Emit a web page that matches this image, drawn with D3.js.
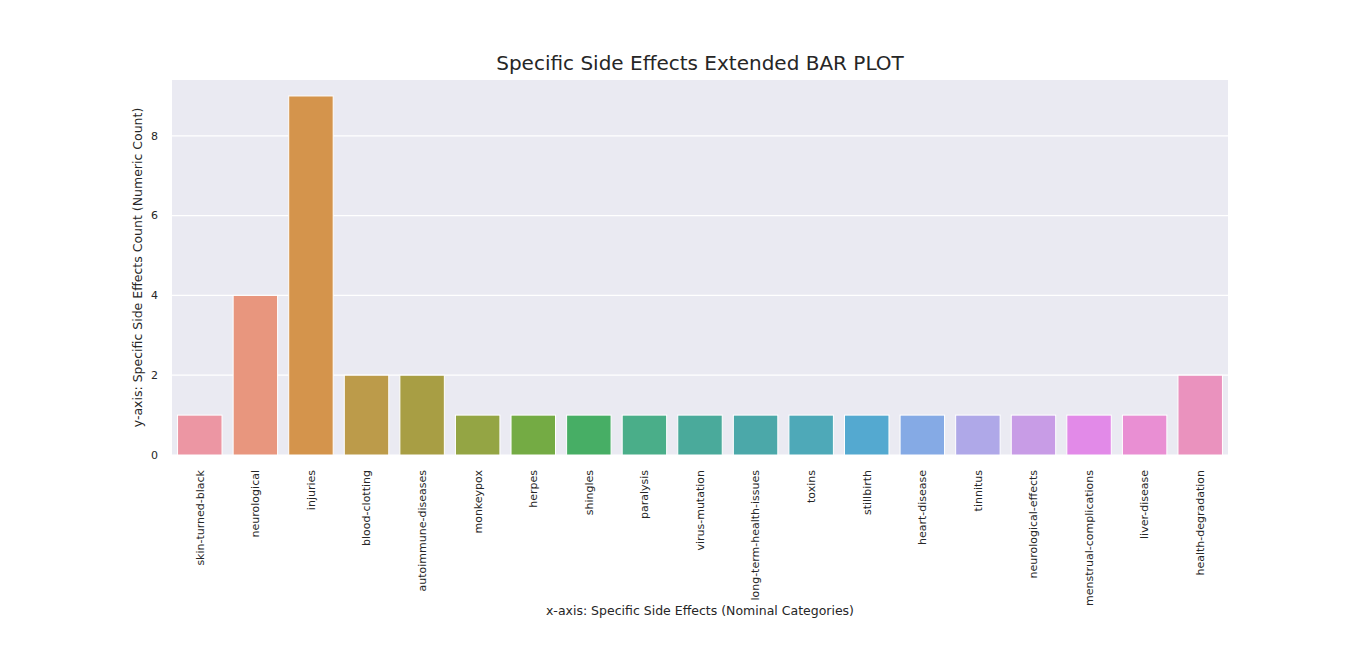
<!DOCTYPE html>
<html><head><meta charset="utf-8">
<script src="https://cdn.jsdelivr.net/npm/d3@7"></script>
<style>body{margin:0;background:#fff}text{font-family:"DejaVu Sans",sans-serif}</style>
</head><body><div id="chart"></div>
<script>
var categories=["skin-turned-black","neurological","injuries","blood-clotting","autoimmune-diseases","monkeypox","herpes","shingles","paralysis","virus-mutation","long-term-health-issues","toxins","stillbirth","heart-disease","tinnitus","neurological-effects","menstrual-complications","liver-disease","health-degradation"];
var values=[1,4,9,2,2,1,1,1,1,1,1,1,1,1,1,1,1,1,2];
var colors=["#ec96a3","#e8967e","#d4944c","#bc9b4a","#a89e44","#94a544","#74ab44","#47ae65","#4aae89","#4aaa9b","#4ba8a9","#4ea9b8","#54a9d0","#85aae5","#afa8e8","#c89ce6","#e28ae8","#e98fd3","#ea92be"];
var yTicks=[0,2,4,6,8];

var W=1366,H=655,m={top:80,left:172,right:138,bottom:200};
var svg=d3.select("#chart").append("svg").attr("width",W).attr("height",H);
var x=d3.scaleBand().domain(categories).range([m.left,W-m.right]).paddingInner(0.2).paddingOuter(0.1);
var y=d3.scaleLinear().domain([0,9.4]).range([H-m.bottom,m.top]);

svg.append("rect").attr("x",m.left).attr("y",m.top).attr("width",W-m.left-m.right).attr("height",H-m.top-m.bottom).attr("fill","#eaeaf2");
svg.selectAll(".grid").data(yTicks).enter().append("line")
  .attr("x1",m.left).attr("x2",W-m.right).attr("y1",d=>y(d)).attr("y2",d=>y(d))
  .attr("stroke","#fff").attr("stroke-width",1.2);

svg.selectAll(".bar").data(values).enter().append("rect")
  .attr("x",(d,i)=>x(categories[i])).attr("width",x.bandwidth())
  .attr("y",d=>y(d)).attr("height",d=>y(0)-y(d))
  .attr("fill",(d,i)=>colors[i]).attr("stroke","#fff").attr("stroke-width",1);

svg.selectAll(".yt").data(yTicks).enter().append("text")
  .attr("x",m.left-14).attr("y",d=>y(d)).attr("dy","0.35em").attr("text-anchor","end")
  .attr("font-size",11).attr("fill","#262626").text(d=>d);

svg.selectAll(".xt").data(categories).enter().append("text")
  .attr("transform",d=>`translate(${x(d)+x.bandwidth()/2},${y(0)+15}) rotate(-90)`)
  .attr("dy","0.35em").attr("text-anchor","end").attr("font-size",11).attr("fill","#262626").text(d=>d);

svg.append("text").attr("x",(m.left+W-m.right)/2).attr("y",70).attr("text-anchor","middle")
  .attr("font-size",20).attr("fill","#262626").text("Specific Side Effects Extended BAR PLOT");
svg.append("text").attr("x",(m.left+W-m.right)/2).attr("y",615).attr("text-anchor","middle")
  .attr("font-size",12.5).attr("fill","#262626").text("x-axis: Specific Side Effects (Nominal Categories)");
svg.append("text").attr("transform",`translate(142,${(m.top+H-m.bottom)/2}) rotate(-90)`).attr("text-anchor","middle")
  .attr("font-size",12.5).attr("fill","#262626").text("y-axis: Specific Side Effects Count (Numeric Count)");
</script></body></html>
